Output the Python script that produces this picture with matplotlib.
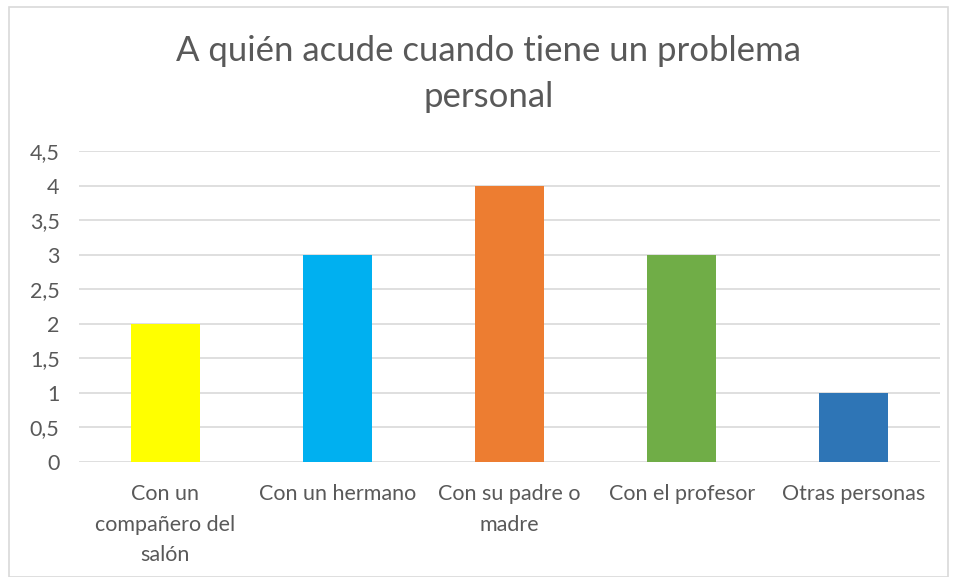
import matplotlib
matplotlib.use("Agg")
import matplotlib.pyplot as plt
from matplotlib.patches import Rectangle

categories = ["Con un\ncompañero del\nsalón", "Con un hermano", "Con su padre o\nmadre", "Con el profesor", "Otras personas"]
values = [2, 3, 4, 3, 1]
colors = ["#FFFF00", "#00B0F0", "#ED7D31", "#70AD47", "#2E75B6"]
yticks = [0, 0.5, 1, 1.5, 2, 2.5, 3, 3.5, 4, 4.5]
ytick_labels = ["0", "0,5", "1", "1,5", "2", "2,5", "3", "3,5", "4", "4,5"]
title = "A quién acude cuando tiene un problema\npersonal"

plt.rcParams['font.family'] = ['Lato', 'DejaVu Sans']
W, H = 956, 577
fig = plt.figure(figsize=(W/100, H/100), dpi=100)
fig.patches.append(Rectangle((9/W, 0), (948-9)/W, (577-7)/H, transform=fig.transFigure,
                             fill=False, edgecolor="#D9D9D9", linewidth=1.2))

ax = fig.add_axes([79/W, 1-462/H, (940-79)/W, (462-151)/H])
x = range(len(categories))
ax.bar(x, values, width=0.4, color=colors, zorder=3)
ax.set_xlim(-0.5, len(categories)-0.5)
ax.set_ylim(0, 4.5)
ax.set_yticks(yticks)
ax.set_yticklabels(ytick_labels)
ax.set_xticks(list(x))
ax.set_xticklabels(categories, linespacing=1.65)
ax.tick_params(axis='both', length=0, labelsize=15.5, labelcolor="#595959")
ax.tick_params(axis='x', pad=16)
ax.tick_params(axis='y', pad=14)
ax.grid(axis='y', color="#D9D9D9", linewidth=1.2, zorder=0)
for s in ax.spines.values():
    s.set_visible(False)

fig.text(489/W, 1-74/H, title, ha='center', va='center', fontsize=25,
         color="#595959", linespacing=1.55)

fig.savefig("out.png", dpi=100)
